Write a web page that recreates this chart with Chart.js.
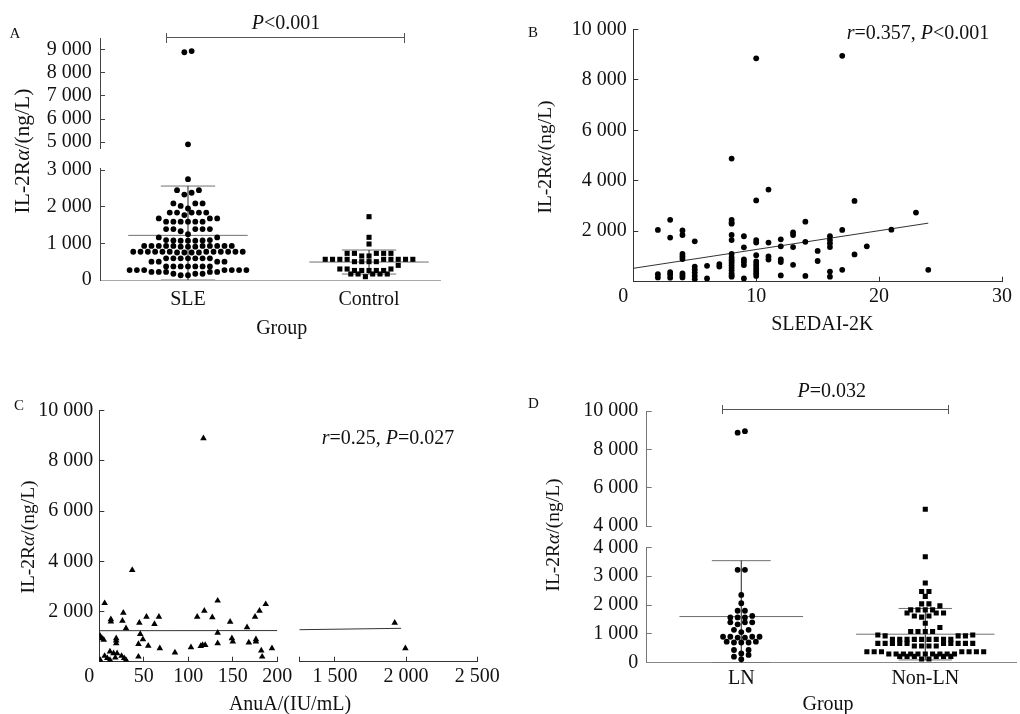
<!DOCTYPE html>
<html>
<head>
<meta charset="utf-8">
<title>IL-2Rα</title>
<script src="https://cdn.jsdelivr.net/npm/chart.js@4.4.1/dist/chart.umd.min.js"></script>
<style>
  html, body { margin: 0; padding: 0; background: #fff; }
  #page { position: relative; width: 1020px; height: 714px; overflow: hidden; background: #fff;
          font-family: "Liberation Serif", "Times New Roman", serif; color: #111; }
  #page canvas { position: absolute; left: 0; top: 0; }
  .lbl { position: absolute; white-space: nowrap; line-height: 1; transform: translate(-50%, -50%); }
  .rot { transform: translate(-50%, -50%) rotate(-90deg); }
  .bk { position: absolute; background: #555; }
</style>
</head>
<body>
<div id="page"></div>
<script>
// ---------- A: IL-2Rα (ng/L), SLE vs control ----------
const groupsA = ['SLE', 'Control'];
const sleLevels = [
  8900, 8950, 4900,
  2750,
  2450, 2450, 2380, 2330,
  2090, 2090, 2090, 2020, 1950,
  1840, 1840, 1840, 1840, 1840, 1770,
  1680, 1680, 1680, 1590, 1590, 1590, 1590, 1590, 1590,
  1390, 1390, 1390, 1390, 1390, 1330, 1250,
  1160, 1160, 1090, 1090, 1080, 1080, 1070, 1070, 1070,
  930, 930, 930, 930, 930, 930, 930, 930, 930, 930, 910, 910, 910,
  770, 770, 770, 770, 770, 770, 770, 770, 770, 770, 770, 770, 750, 750, 750, 750,
  590, 590, 590, 590, 590, 590, 590,
  500, 500, 500, 500, 370, 370, 370, 370, 370, 370, 370,
  270, 270, 270, 270, 270, 270, 270, 220, 220, 220, 220, 220, 170, 170, 170, 130, 130
];
const controlLevels = [
  1727, 1164, 982,
  727, 727, 727, 727, 727, 655, 655,
  564, 564, 564, 564, 564, 564, 564, 564, 564, 500, 500, 500, 500,
  400, 300, 300, 300, 260, 260, 260, 260, 260,
  164, 164, 164, 164, 164, 91
];
const meanA = [1218, 490];
const sdA = [1345, 328];

// ---------- B: SLEDAI-2K vs IL-2Rα ----------
const sledaiScore = [
  2, 2, 2,
  3, 3, 3, 3, 3,
  4, 4, 4, 4, 4, 4, 4, 4,
  5, 5, 5, 5, 5, 5,
  6, 6,
  7, 7,
  8, 8, 8, 8, 8, 8, 8, 8, 8, 8, 8, 8, 8, 8, 8, 8,
  9, 9, 9, 9, 9, 9,
  10, 10, 10, 10, 10, 10, 10, 10, 10, 10, 10, 10,
  11, 11, 11, 11,
  12, 12, 12, 12, 12,
  13, 13, 13, 13,
  14, 14, 14,
  15, 15,
  16, 16, 16, 16, 16, 16,
  17, 17, 17,
  18, 18,
  19, 21, 23, 24
];
const sledaiLevel = [
  2050, 300, 170,
  2450, 1750, 380, 290, 160,
  2030, 1850, 1100, 1000, 900, 330, 250, 170,
  1600, 600, 480, 360, 230, 100,
  630, 130,
  700, 600,
  4880, 2450, 2350, 2300, 1850, 1650, 1100, 950, 850, 750, 650, 550, 450, 330, 250, 200,
  1800, 1360, 880, 780, 660, 130,
  8850, 3220, 1650, 1550, 1050, 800, 700, 620, 520, 430, 330, 230,
  3650, 1550, 1000, 880,
  1680, 1400, 880, 780, 250,
  1950, 1850, 1370, 670,
  2380, 1580, 230,
  1220, 820,
  1800, 1650, 1520, 1370, 400, 200,
  8950, 2050, 470,
  3200, 1080,
  1400, 2060, 2740, 470
];
const fitBX = [0, 24];
const fitBY = [530, 2320];

// ---------- C: AnuA vs IL-2Rα ----------
const anuaTitre = [
  1, 3, 5, 6, 13, 13, 27, 26, 30, 45, 53, 62, 67,
  110, 118, 127, 133, 147, 166, 175, 180, 187, 37, 117,
  19, 19, 19, 46, 49, 44, 55, 68, 85, 103, 114, 116, 119,
  133, 133, 149, 150, 168, 176, 176, 182, 183, 194, 44,
  1, 6, 9, 12, 12, 16, 20, 18, 25, 28, 30,
  1920, 1995
];
const anuaLevel = [
  1020, 930, 870, 2330, 1690, 1600, 1950, 1630, 1330, 1550, 1790, 1500, 1790,
  1790, 2030, 1770, 2430, 1590, 1370, 1790, 2030, 2290, 3650, 8900,
  930, 840, 730, 1100, 890, 700, 630, 530, 360, 570, 620, 660, 660,
  1150, 730, 930, 800, 760, 890, 800, 440, 200, 530, 200,
  70, 230, 140, 70, 400, 330, 330, 160, 230, 140, 70,
  1550, 530
];
const fitCX = [0, 200, 1250, 1965];
const fitCY = [1235, 1240, 1275, 1330];

// ---------- D: LN vs non-LN ----------
const groupsD = ['LN', 'Non-LN'];
const lnLevels = [
  8950, 8870, 3220, 3220, 2350, 2060, 1800, 1800, 1620, 1570, 1570, 1570,
  1400, 1400, 1400, 1330, 1140, 1140, 1060, 900, 900, 900, 900, 870, 870,
  730, 730, 700, 700, 700, 440, 440, 320, 270, 210, 120
];
const nonLnLevels = [
  4870, 3670, 2760, 2470, 2470, 2300, 2040, 2040, 1970,
  1830, 1830, 1830, 1830, 1720, 1720, 1720, 1620, 1620, 1580, 1370, 1220,
  1080, 1080, 1080, 1080, 960, 960, 930, 930, 930,
  810, 810, 810, 810, 810, 810, 810, 810, 810,
  670, 670, 670, 670, 670, 670, 670, 670, 670, 670, 580, 580, 580, 580,
  380, 380, 380, 380, 380, 380, 380,
  300, 300, 300, 300, 300, 300, 300, 300, 300, 300,
  220, 220, 220, 220, 220, 220, 130, 130
];
const meanD = [1600, 988];
const sdD = [1937, 892];

// ---------- tick values ----------
const ticksALow = [0, 1000, 2000, 3000];
const ticksAHigh = [5000, 6000, 7000, 8000, 9000];
const ticksBX = [0, 10, 20, 30];
const ticksBY = [2000, 4000, 6000, 8000, 10000];
const ticksCX1 = [0, 50, 100, 150, 200];
const ticksCX2 = [1500, 2000, 2500];
const ticksCY = [2000, 4000, 6000, 8000, 10000];
const ticksDLow = [0, 1000, 2000, 3000, 4000];
const ticksDHigh = [4000, 6000, 8000, 10000];

// ---------- helpers ----------
const W = 1020, H = 714, YW = 70, XH = 40;
const page = document.getElementById('page');
const FONT = { family: '"Liberation Serif", "Times New Roman", serif', size: 20 };
const INK = '#111';
const GREY = '#707070';
const fmt = v => String(v).replace(/\B(?=(\d{3})+(?!\d))/g, ' ');
const originLabel = v => (v === 0 ? '0\u2002\u2002' : fmt(v));

function axis(o) {
  const a = {
    type: 'linear',
    display: !!o.show,
    min: o.min,
    max: o.max,
    afterBuildTicks: s => { s.ticks = (o.ticks || []).map(v => ({ value: v })); },
    border: { display: true, color: o.color || '#444', width: 1 },
    grid: { display: !!o.marks, drawOnChartArea: false, drawTicks: !!o.marks, tickLength: -5, color: o.color || '#444', lineWidth: 1 },
    ticks: { font: FONT, color: INK, padding: o.padding || 0, maxRotation: 0, autoSkip: false, callback: o.label || fmt }
  };
  if (o.show) a.afterFit = s => { if (s.isHorizontal()) s.height = XH; else s.width = YW; };
  return a;
}

function plot(area, x, y, datasets) {
  const cv = document.createElement('canvas');
  cv.width = W; cv.height = H;
  cv.style.width = W + 'px'; cv.style.height = H + 'px';
  page.appendChild(cv);
  const [l, t, r, b] = area;
  return new Chart(cv, {
    type: 'scatter',
    data: { datasets },
    options: {
      responsive: false, animation: false, devicePixelRatio: 1, events: [],
      layout: { padding: { left: l - (y.display ? YW : 0), top: t, right: W - r, bottom: H - b - (x.display ? XH : 0) } },
      plugins: { legend: { display: false }, tooltip: { enabled: false } },
      scales: { x, y }
    }
  });
}

function dots(values, centre, style, r) {
  return {
    data: values.map(v => ({ x: centre, y: v })),
    pointStyle: style, pointRadius: r, backgroundColor: '#000', borderColor: '#000', pointBorderWidth: 0, order: 0
  };
}
function xyDots(xs, ys, style, r) {
  return {
    data: xs.map((x, i) => ({ x, y: ys[i] })),
    pointStyle: style, pointRadius: r, backgroundColor: '#000', borderColor: '#000', pointBorderWidth: 0, order: 0
  };
}
function seg(x1, y1, x2, y2, color) {
  return { data: [{ x: x1, y: y1 }, { x: x2, y: y2 }], showLine: true, borderColor: color, borderWidth: 1, pointRadius: 0, order: 1 };
}
function meanSd(c, m, s, lo, meanHalf, capHalf) {
  const top = m + s, bot = Math.max(lo, m - s);
  return [
    seg(c - meanHalf, m, c + meanHalf, m, GREY),
    seg(c, bot, c, top, '#222'),
    seg(c - capHalf, top, c + capHalf, top, GREY),
    seg(c - capHalf, bot, c + capHalf, bot, GREY)
  ];
}

// scatter-dot layout: points grouped into rows, lowest values placed nearest the centre
function swarm(chart, centres, rowPx, gapPx) {
  const xs = chart.scales.x, ys = chart.scales.y;
  const unit = xs.getPixelForValue(1) - xs.getPixelForValue(0);
  centres.forEach((c, i) => {
    const data = chart.data.datasets[i].data.slice().sort((a, b) => a.y - b.y);
    let row = [], start = 0;
    const place = () => {
      const n = row.length;
      const slots = row.map((_, k) => k - (n - 1) / 2).sort((a, b) => Math.abs(a) - Math.abs(b) || a - b);
      row.forEach((p, k) => { p.x = c + slots[k] * gapPx / unit; });
    };
    data.forEach(p => {
      const py = ys.getPixelForValue(p.y);
      if (row.length && start - py > rowPx + 0.01) { place(); row = []; }
      if (!row.length) start = py;
      row.push(p);
    });
    if (row.length) place();
  });
  chart.update('none');
}

// ---------- panel A ----------
const AX = { min: 0.514, max: 2.392 };
const aHigh = plot([100, 38, 440, 148],
  axis({ ...AX }),
  axis({ show: true, min: 4740, max: 9520, ticks: ticksAHigh, marks: true, padding: 13.3, color: '#444' }),
  [dots(sleLevels.filter(v => v > 3055), 1, 'circle', 2.9),
   dots(controlLevels.filter(v => v > 3055), 2, 'rect', 3.6)]);
swarm(aHigh, [1, 2], 5.5, 7.3);

const aLow = plot([100, 168, 440, 280],
  axis({ ...AX, show: true, ticks: [1, 2], padding: 8, color: '#aaa', label: v => groupsA[v - 1] }),
  axis({ show: true, min: 0, max: 3055, ticks: ticksALow, marks: true, padding: 13.3, color: '#444' }),
  [dots(sleLevels.filter(v => v <= 3055), 1, 'circle', 2.9),
   dots(controlLevels.filter(v => v <= 3055), 2, 'rect', 3.6),
   ...meanSd(1, meanA[0], sdA[0], 0, 0.33, 0.15),
   ...meanSd(2, meanA[1], sdA[1], 0, 0.33, 0.15)]);
swarm(aLow, [1, 2], 5.5, 7.3);

// ---------- panel B ----------
plot([633.3, 29.3, 1011, 281.7],
  axis({ show: true, min: 0, max: 30, ticks: ticksBX, marks: true, padding: 8, color: '#333', label: originLabel }),
  axis({ show: true, min: 0, max: 10000, ticks: ticksBY, marks: true, padding: 11.6, color: '#333' }),
  [xyDots(sledaiScore, sledaiLevel, 'circle', 2.9),
   seg(fitBX[0], fitBY[0], fitBX[1], fitBY[1], '#333')]);

// ---------- panel C ----------
const cLeft = anuaTitre.map((x, i) => i).filter(i => anuaTitre[i] <= 200);
const cRight = anuaTitre.map((x, i) => i).filter(i => anuaTitre[i] > 200);
plot([99.3, 410.7, 277.3, 661.7],
  axis({ show: true, min: 0, max: 200, ticks: ticksCX1, marks: true, padding: 8, color: '#333', label: originLabel }),
  axis({ show: true, min: 0, max: 10000, ticks: ticksCY, marks: true, padding: 11, color: '#333' }),
  [xyDots(cLeft.map(i => anuaTitre[i]), cLeft.map(i => anuaLevel[i]), 'triangle', 3.8),
   seg(fitCX[0], fitCY[0], fitCX[1], fitCY[1], '#333')]);
plot([299.3, 410.7, 477.3, 661.7],
  axis({ show: true, min: 1250, max: 2500, ticks: [1250, ...ticksCX2], marks: true, padding: 8, color: '#333',
         label: v => (ticksCX2.includes(v) ? fmt(v) : '') }),
  axis({ min: 0, max: 10000 }),
  [xyDots(cRight.map(i => anuaTitre[i]), cRight.map(i => anuaLevel[i]), 'triangle', 3.8),
   seg(fitCX[2], fitCY[2], fitCX[3], fitCY[3], '#333')]);

// ---------- panel D ----------
const DX = { min: 0.486, max: 2.493 };
const dHigh = plot([646.7, 411, 1020, 526],
  axis({ ...DX }),
  axis({ show: true, min: 4000, max: 10000, ticks: ticksDHigh, marks: true, padding: 13.4, color: '#777' }),
  [dots(lnLevels.filter(v => v > 4000), 1, 'circle', 2.9),
   dots(nonLnLevels.filter(v => v > 4000), 2, 'rect', 3.6)]);
swarm(dHigh, [1, 2], 4.5, 7.3);

const dLow = plot([646.7, 547.3, 1020, 662.7],
  axis({ ...DX, show: true, ticks: [1, 2], padding: 4, color: '#888', label: v => groupsD[v - 1] }),
  axis({ show: true, min: 0, max: 4000, ticks: ticksDLow, marks: true, padding: 13.4, color: '#777' }),
  [dots(lnLevels.filter(v => v <= 4000), 1, 'circle', 2.9),
   dots(nonLnLevels.filter(v => v <= 4000), 2, 'rect', 3.6),
   ...meanSd(1, meanD[0], sdD[0], 0, 0.336, 0.16),
   ...meanSd(2, meanD[1], sdD[1], 0, 0.376, 0.145)]);
swarm(dLow, [1, 2], 4.5, 7.3);

// ---------- text ----------
const yTitle = 'IL-2R<i>α</i>/(ng/L)';
const texts = [
  ['A', 15, 33, 15], ['B', 533, 32, 15], ['C', 19, 405, 15], ['D', 533.5, 403, 15],
  ['<i>P</i>&lt;0.001', 286, 21.7, 20],
  ['<i>r</i>=0.357, <i>P</i>&lt;0.001', 918, 31.7, 20],
  ['<i>r</i>=0.25, <i>P</i>=0.027', 388, 436.7, 20],
  ['<i>P</i>=0.032', 831.7, 390, 20],
  ['Group', 281.7, 326.7, 20],
  ['SLEDAI-2K', 822.3, 323.3, 20],
  ['AnuA/(IU/mL)', 290, 703.3, 20],
  ['Group', 828, 703, 20],
  [yTitle, 22.5, 151, 21.5, true],
  [yTitle, 545, 156.7, 19.5, true],
  [yTitle, 28.3, 536.7, 19.5, true],
  [yTitle, 553, 535, 19.5, true]
];
texts.forEach(([html, x, y, size, rot]) => {
  const d = document.createElement('div');
  d.className = 'lbl' + (rot ? ' rot' : '');
  d.style.left = x + 'px';
  d.style.top = y + 'px';
  d.style.fontSize = size + 'px';
  d.innerHTML = html;
  page.appendChild(d);
});

// significance brackets
function bar(x, y, w, h) {
  const d = document.createElement('div');
  d.className = 'bk';
  Object.assign(d.style, { left: x + 'px', top: y + 'px', width: w + 'px', height: h + 'px' });
  page.appendChild(d);
}
function bracket(x1, x2, y, h) {
  bar(x1, y, x2 - x1, 1);
  bar(x1, y - h, 1, 2 * h + 1);
  bar(x2, y - h, 1, 2 * h + 1);
}
bracket(165.7, 404.3, 37, 4.5);
bracket(722.3, 947.7, 409, 4);
</script>
</body>
</html>
